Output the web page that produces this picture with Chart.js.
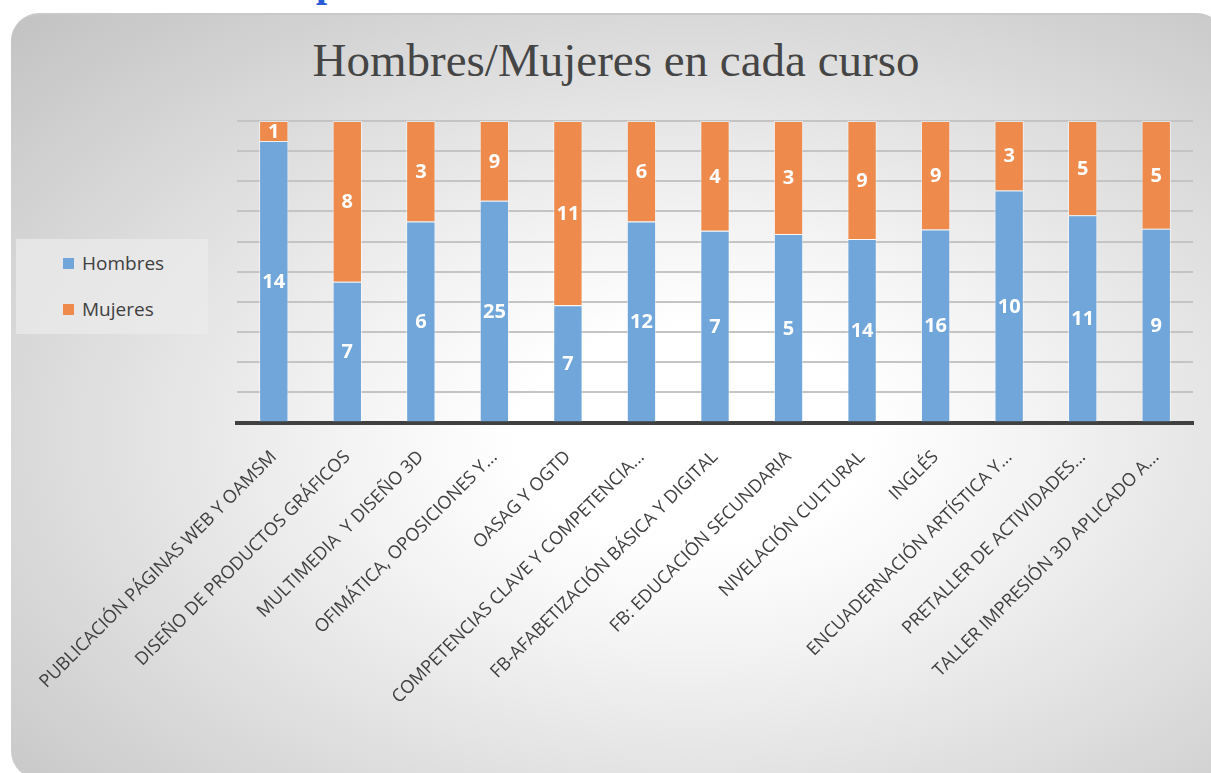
<!DOCTYPE html>
<html>
<head>
<meta charset="utf-8">
<script src="https://cdn.jsdelivr.net/npm/chart.js@4/dist/chart.umd.min.js"></script>
<style>
  html, body { margin: 0; padding: 0; width: 1211px; height: 773px; overflow: hidden; background: #fff; }
  #corte { position: absolute; left: 316px; top: -37px; font: bold 40px "Liberation Serif", serif; color: #2a5bd7; line-height: 1; }
  #panel {
    position: absolute; left: 11px; top: 13px; width: 1214px; height: 764px;
    border-radius: 28px; border-top: 2px solid #c9c9c9;
    background: radial-gradient(ellipse farthest-corner at 56% 55%, #ffffff 0%, #ffffff 18%, #f4f4f4 35%, #c2c2c2 100%);
  }
  #titulo { position: absolute; left: 0; width: 1232px; top: 33px; text-align: center;
    font: 47px "Liberation Serif", serif; color: #454545; }
  #leyenda { position: absolute; left: 16px; top: 239px; width: 192px; height: 95px; background: rgba(235,235,235,0.75); }
  #leyenda div { position: absolute; left: 47px; font: 19px "Open Sans", sans-serif; color: #404040; }
  #leyenda span { display: inline-block; width: 11px; height: 11px; margin-right: 8px; vertical-align: 1px; }
  #wrap { position: absolute; left: 0; top: 0; width: 1211px; height: 773px; }
</style>
</head>
<body>
<div id="corte">p</div>
<div id="panel"></div>
<div id="titulo">Hombres/Mujeres en cada curso</div>
<div id="leyenda"></div>
<div id="wrap"><canvas id="grafico" width="1211" height="773"></canvas></div>
<script>
var cursos = [
  "PUBLICACIÓN PÁGINAS WEB Y OAMSM",
  "DISEÑO DE PRODUCTOS GRÁFICOS",
  "MULTIMEDIA  Y DISEÑO 3D",
  "OFIMÁTICA, OPOSICIONES Y...",
  "OASAG Y OGTD",
  "COMPETENCIAS CLAVE Y COMPETENCIA...",
  "FB-AFABETIZACIÓN BÁSICA Y DIGITAL",
  "FB: EDUCACIÓN SECUNDARIA",
  "NIVELACIÓN CULTURAL",
  "INGLÉS",
  "ENCUADERNACIÓN ARTÍSTICA Y...",
  "PRETALLER DE ACTIVIDADES...",
  "TALLER IMPRESIÓN 3D APLICADO A..."
];
var hombres = [14, 7, 6, 25, 7, 12, 7, 5, 14, 16, 10, 11, 9];
var mujeres = [1, 8, 3, 9, 11, 6, 4, 3, 9, 9, 3, 5, 5];

var colorHombres = "#70a6da";
var colorMujeres = "#ee8b4c";

// porcentajes para el apilado al 100%
function porcentaje(serie) {
  var out = [];
  for (var i = 0; i < serie.length; i++) {
    out.push(serie[i] / (hombres[i] + mujeres[i]) * 100);
  }
  return out;
}

var series = [
  { nombre: "Hombres", valores: hombres, color: colorHombres },
  { nombre: "Mujeres", valores: mujeres, color: colorMujeres }
];

// leyenda en html
var ley = document.getElementById("leyenda");
series.forEach(function (s, i) {
  var d = document.createElement("div");
  d.style.top = (i * 46 + 11) + "px";
  d.innerHTML = '<span style="background:' + s.color + '"></span>' + s.nombre;
  ley.appendChild(d);
});

// etiquetas de valor dentro de cada segmento
var etiquetasValor = {
  id: "etiquetasValor",
  afterDatasetsDraw: function (chart) {
    var ctx = chart.ctx;
    ctx.save();
    ctx.font = "bold 20px 'Open Sans', sans-serif";
    ctx.fillStyle = "#ffffff";
    ctx.textAlign = "center";
    ctx.textBaseline = "middle";
    chart.data.datasets.forEach(function (ds, di) {
      var meta = chart.getDatasetMeta(di);
      meta.data.forEach(function (bar, i) {
        var y = (bar.y + bar.base) / 2;
        ctx.fillText(String(series[di].valores[i]), bar.x, y + 1);
      });
    });
    ctx.restore();
  }
};

new Chart(document.getElementById("grafico"), {
  type: "bar",
  data: {
    labels: cursos,
    datasets: series.map(function (s) {
      return {
        label: s.nombre,
        data: porcentaje(s.valores),
        backgroundColor: s.color,
        borderColor: "rgba(255,255,255,0.55)",
        borderWidth: 1,
        barPercentage: 0.57,
        categoryPercentage: 0.7
      };
    })
  },
  options: {
    responsive: false,
    animation: false,
    devicePixelRatio: 1,
    layout: { padding: { left: 237, right: 18, top: 121, bottom: 49 } },
    plugins: { legend: { display: false }, tooltip: { enabled: false } },
    scales: {
      x: {
        stacked: true,
        grid: { display: false },
        border: { color: "#404040", width: 4 },
        ticks: {
          minRotation: 45, maxRotation: 45, autoSkip: false, padding: 16,
          color: "#404040", font: { family: "'Open Sans', sans-serif", size: 18 }
        }
      },
      y: {
        stacked: true, min: 0, max: 100,
        ticks: { display: false, stepSize: 10 },
        border: { display: false },
        grid: { color: "#c4c4c4", lineWidth: 2, drawTicks: false }
      }
    }
  },
  plugins: [etiquetasValor]
});
</script>
</body>
</html>
